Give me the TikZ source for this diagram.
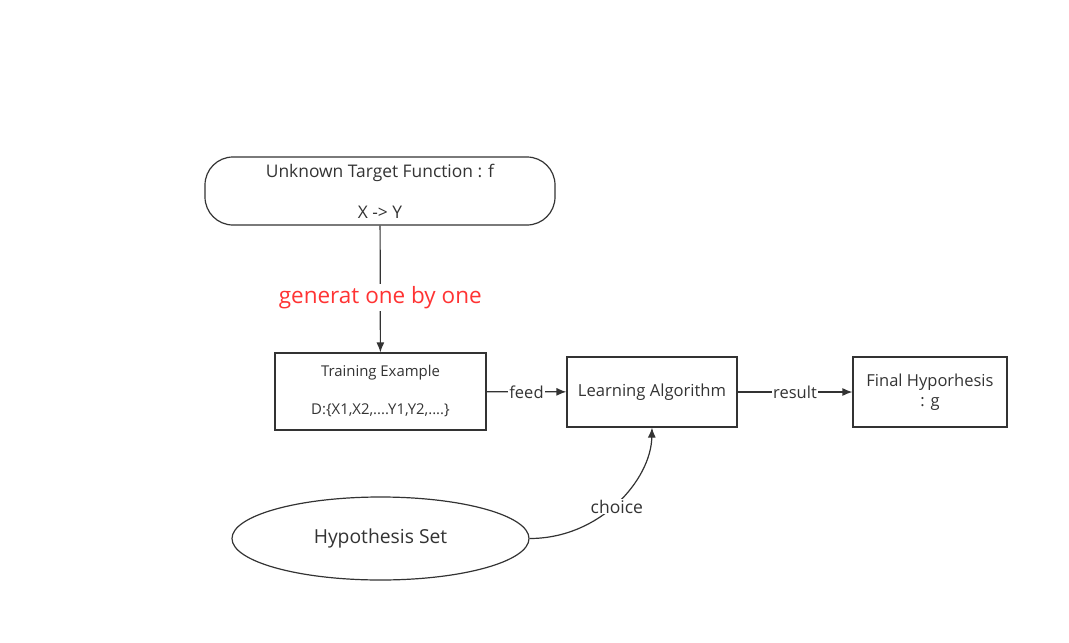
\documentclass[tikz,border=0pt]{standalone}
\usepackage{fontspec}
\setmainfont{Open Sans}
\usetikzlibrary{shapes.geometric,arrows.meta}
\definecolor{ink}{HTML}{333333}
\definecolor{redlbl}{HTML}{FF3333}
\tikzset{
  box/.style={draw=ink, line width=1.2pt, text=ink, align=center, inner sep=0pt},
  conn/.style={draw=ink, line width=1.2pt, -{Latex[length=10pt,width=8pt]}},
  lbl/.style={fill=white, text=ink, inner sep=1pt, font=\fontsize{16.5}{18}\selectfont},
}
\begin{document}
\begin{tikzpicture}[x=1pt,y=-1pt]
\useasboundingbox (0,0) rectangle (1069,643);
\node[box, rounded corners=28pt, minimum width=350pt, minimum height=68pt, font=\fontsize{17.4}{41}\selectfont] (target) at (380,191) {Unknown Target Function : f\\X -> Y};
\node[box, minimum width=211pt, minimum height=77pt, font=\fontsize{14.9}{38}\selectfont] (train) at (380.5,391.5) {Training Example\\D:\{X1,X2,....Y1,Y2,....\}};
\node[box, minimum width=170pt, minimum height=70pt, font=\fontsize{16.6}{18}\selectfont] (learn) at (652,392) {Learning Algorithm};
\node[box, minimum width=154pt, minimum height=70pt, font=\fontsize{16.5}{20}\selectfont] (final) at (930,392) {Final Hyporhesis\\: g};
\node[box, ellipse, minimum width=297pt, minimum height=83pt, font=\fontsize{19.3}{22}\selectfont] (hyp) at (380.5,538.5) {Hypothesis Set};
\draw[conn] (target) -- node[pos=0.567, fill=white, text=redlbl, inner sep=2pt, font=\fontsize{22.5}{26}\selectfont] (gen) {generat one by one} (train);
\draw[conn] (train) -- node[lbl] (feed) {feed} (learn);
\draw[conn] (learn) -- node[lbl] (res) {result} (final);
\draw[conn] (hyp.east) .. controls (600,538.5) and (651,480) .. (learn.south) node[lbl, pos=0.5, yshift=-4pt, font=\fontsize{17.5}{20}\selectfont] (ch) {choice};
\end{tikzpicture}
\end{document}
